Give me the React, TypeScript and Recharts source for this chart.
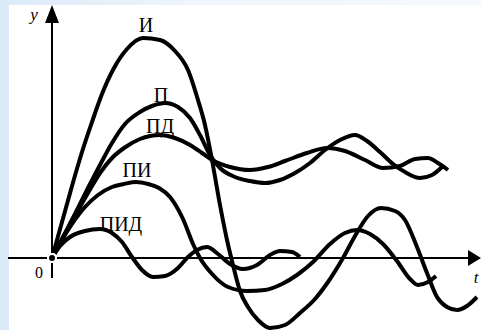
import {
  LineChart,
  Line,
  XAxis,
  YAxis,
  ReferenceLine,
  ReferenceDot,
} from "recharts";

// step responses of the regulators, [t, y]
const curveI = [
  [0, 0], [10, 36], [20, 72], [30, 106], [40, 136], [50, 164], [62, 190],
  [75, 209], [91, 220], [108, 218], [123, 207], [136, 188], [146, 158],
  [153, 133], [160, 98], [168, 53], [175, 18], [181, -7], [188, -33],
  [196, -49], [206, -62], [218, -70], [233, -67], [248, -55], [263, -41],
  [276, -24], [291, 0], [303, 22], [316, 42], [329, 50], [343, 47],
  [353, 38], [365, 11], [375, -15], [385, -39], [395, -49], [405, -52],
  [415, -48], [425, -39],
];

const curveP = [
  [0, 0], [12, 23], [24, 46], [36, 70], [48, 93], [60, 115], [73, 134],
  [88, 146], [100, 152], [113, 155], [126, 151], [138, 140], [148, 123],
  [158, 103], [168, 90], [183, 81], [198, 77], [213, 75], [228, 78],
  [243, 85], [258, 95], [273, 108], [288, 118], [303, 123], [315, 117],
  [328, 106], [341, 94], [353, 86], [368, 80], [380, 83], [391, 92],
];

const curvePD = [
  [0, 0], [12, 22], [24, 44], [36, 65], [48, 85], [60, 100], [72, 110],
  [88, 119], [108, 123], [123, 120], [138, 113], [150, 105], [160, 98],
  [178, 91], [198, 88], [216, 91], [233, 97], [255, 105], [275, 110],
  [293, 107], [313, 98], [331, 90], [348, 92], [363, 99], [376, 100],
  [386, 95], [396, 88],
];

const curvePI = [
  [0, 0], [10, 18], [20, 34], [33, 51], [46, 63], [60, 71], [72, 74],
  [84, 76], [96, 74], [107, 70], [118, 61], [131, 39], [141, 14], [148, 0],
  [161, -17], [176, -29], [195, -33], [213, -32], [230, -26], [245, -17],
  [261, -4], [278, 14], [293, 25], [305, 28], [318, 24], [331, 14],
  [345, -3], [358, -21], [366, -27], [376, -24], [384, -18],
];

const curvePID = [
  [0, 0], [8, 12], [18, 21], [33, 27], [48, 29], [60, 25], [70, 16],
  [80, 1], [90, -12], [101, -19], [113, -18], [126, -10], [136, 1],
  [145, 8], [155, 11], [166, 4], [178, -6], [191, -11], [205, -7],
  [218, 3], [228, 7], [240, 6], [248, 1],
];

// curve names and where they are written
const names = ["И", "П", "ПД", "ПИ", "ПИД"];
const nameSpots = [
  [94, 226],
  [109, 156],
  [108, 125],
  [85, 81],
  [69, 27],
];

const series = [curveI, curveP, curvePD, curvePI, curvePID];

const toRows = (pts: number[][]) => pts.map(([t, y]) => ({ t, y }));

const W = 481;
const H = 330;

const Label = (props: any) => {
  const { cx, cy, text, size, italic } = props;
  return (
    <text
      x={cx}
      y={cy}
      textAnchor="middle"
      fontFamily="'Liberation Serif', 'Times New Roman', serif"
      fontSize={size}
      fontStyle={italic ? "italic" : "normal"}
      fill="#000"
    >
      {text}
    </text>
  );
};

const ArrowUp = (props: any) => {
  const { cx, cy } = props;
  return (
    <polygon
      points={`${cx},${cy} ${cx - 7},${cy + 18} ${cx + 7},${cy + 18}`}
      fill="#000"
    />
  );
};

const ArrowRight = (props: any) => {
  const { cx, cy } = props;
  return (
    <polygon
      points={`${cx},${cy} ${cx - 13},${cy - 8} ${cx - 13},${cy + 8}`}
      fill="#000"
    />
  );
};

export default function App() {
  return (
    <div
      style={{
        position: "absolute",
        left: 0,
        top: 0,
        width: W,
        height: H,
        background: "linear-gradient(to right, #dceaf8, #eef5fc 40%, #f6f9fd)",
      }}
    >
      <div
        style={{
          position: "absolute",
          left: 9,
          top: 5,
          right: 0,
          bottom: 0,
          background: "#fff",
        }}
      />
      <div style={{ position: "absolute", left: 0, top: 0 }}>
        <LineChart
          width={W}
          height={H}
          margin={{ top: 0, right: 0, bottom: 0, left: 0 }}
        >
          <XAxis
            type="number"
            dataKey="t"
            domain={[-52, 429]}
            allowDataOverflow
            hide
          />
          <YAxis
            type="number"
            dataKey="y"
            domain={[-72, 258]}
            allowDataOverflow
            hide
          />
          <ReferenceLine
            segment={[
              { x: -44, y: 0 },
              { x: 418, y: 0 },
            ]}
            stroke="#000"
            strokeWidth={2}
          />
          <ReferenceLine
            segment={[
              { x: 0, y: -20 },
              { x: 0, y: 238 },
            ]}
            stroke="#000"
            strokeWidth={2}
          />
          <ReferenceDot x={0} y={253} shape={<ArrowUp />} />
          <ReferenceDot x={429} y={0} shape={<ArrowRight />} />
          {series.map((pts, i) => (
            <Line
              key={names[i]}
              data={toRows(pts)}
              dataKey="y"
              type="monotone"
              stroke="#000"
              strokeWidth={4}
              dot={false}
              isAnimationActive={false}
            />
          ))}
          {names.map((n, i) => (
            <ReferenceDot
              key={`lbl-${n}`}
              x={nameSpots[i][0]}
              y={nameSpots[i][1]}
              shape={<Label text={n} size={20} />}
            />
          ))}
          <ReferenceDot
            x={-18}
            y={238}
            shape={<Label text="y" size={17} italic />}
          />
          <ReferenceDot x={-13} y={-20} shape={<Label text="0" size={16} />} />
          <ReferenceDot
            x={424}
            y={-25}
            shape={<Label text="t" size={17} italic />}
          />
        </LineChart>
      </div>
    </div>
  );
}
